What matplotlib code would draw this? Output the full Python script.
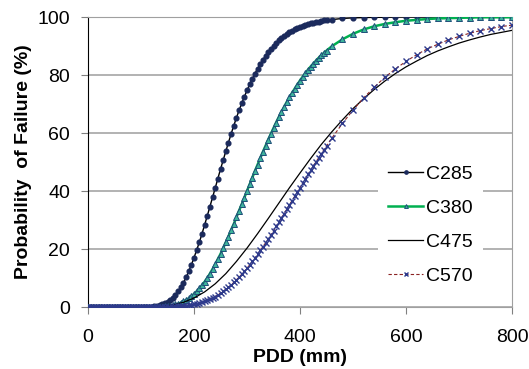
#!/usr/bin/env python

# Import libraries
import matplotlib
matplotlib.use('Agg')
import matplotlib.pyplot as plt

plt.rcParams['font.family'] = ['Liberation Sans', 'DejaVu Sans']

# PDD positions (mm) of the plotted points: dense up to 450 mm, then every 20 mm
pdd = [0, 5, 10, 15, 20, 25, 30, 35, 40, 45, 50, 55, 60, 65, 70, 75, 80, 85, 90, 95,
       100, 105, 110, 115, 120, 125, 130, 135, 140, 145, 150, 155, 160, 165, 170, 175,
       180, 185, 190, 195, 200, 205, 210, 215, 220, 225, 230, 235, 240, 245, 250, 255,
       260, 265, 270, 275, 280, 285, 290, 295, 300, 305, 310, 315, 320, 325, 330, 335,
       340, 345, 350, 355, 360, 365, 370, 375, 380, 385, 390, 395, 400, 405, 410, 415,
       420, 425, 430, 435, 440, 445, 450,
       460, 480, 500, 520, 540, 560, 580, 600, 620, 640, 660, 680, 700, 720, 740, 760,
       780, 800]

# Probability of failure (%)
c285 = [0, 0, 0, 0, 0, 0, 0, 0, 0, 0, 0, 0, 0, 0, 0, 0, 0, 0, 0, 0,
        0.0, 0.0, 0.0, 0.1, 0.1, 0.2, 0.4, 0.6, 0.9, 1.3, 1.8, 2.4, 3.2, 4.2, 5.4, 6.8,
        8.4, 10.2, 12.3, 14.5, 17.0, 19.6, 22.3, 25.2, 28.3, 31.4, 34.6, 37.8, 41.0, 44.3,
        47.5, 50.6, 53.7, 56.7, 59.7, 62.5, 65.2, 67.8, 70.2, 72.5, 74.7, 76.8, 78.7, 80.5,
        82.2, 83.8, 85.2, 86.6, 87.8, 89.0, 90.0, 91.0, 91.9, 92.7, 93.4, 94.0, 94.7, 95.2,
        95.7, 96.1, 96.5, 96.9, 97.2, 97.5, 97.8, 98.0, 98.2, 98.4, 98.6, 98.8, 98.9,
        99.1, 99.5, 99.7, 99.8, 99.9, 99.9, 100, 100, 100, 100, 100, 100, 100, 100, 100,
        100, 100, 100]

c380 = [0, 0, 0, 0, 0, 0, 0, 0, 0, 0, 0, 0, 0, 0, 0, 0, 0, 0, 0, 0,
        0.0, 0.0, 0.0, 0.0, 0.0, 0.0, 0.1, 0.1, 0.1, 0.2, 0.3, 0.5, 0.6, 0.9, 1.1, 1.5,
        1.9, 2.4, 3.0, 3.7, 4.5, 5.4, 6.4, 7.5, 8.7, 10.0, 11.5, 13.1, 14.7, 16.5, 18.3,
        20.3, 22.3, 24.3, 26.5, 28.6, 30.9, 33.2, 35.4, 37.7, 40.0, 42.3, 44.6, 46.9, 49.1,
        51.3, 53.5, 55.6, 57.7, 59.7, 61.7, 63.6, 65.5, 67.3, 69.0, 70.7, 72.3, 73.8, 75.3,
        76.7, 78.1, 79.4, 80.6, 81.8, 82.9, 83.9, 84.9, 85.9, 86.8, 87.6, 88.4,
        89.9, 92.3, 94.2, 95.7, 96.8, 97.6, 98.2, 98.7, 99.0, 99.3, 99.5, 99.6, 99.7, 99.8,
        99.9, 99.9, 99.9, 99.9]

c570 = [0, 0, 0, 0, 0, 0, 0, 0, 0, 0, 0, 0, 0, 0, 0, 0, 0, 0, 0, 0,
        0, 0, 0, 0, 0, 0, 0, 0, 0, 0, 0.1, 0.1, 0.1, 0.2, 0.2, 0.3,
        0.4, 0.5, 0.6, 0.8, 0.9, 1.1, 1.4, 1.7, 2.0, 2.3, 2.7, 3.2, 3.6, 4.2, 4.8,
        5.4, 6.1, 6.8, 7.6, 8.5, 9.4, 10.3, 11.3, 12.3, 13.4, 14.5, 15.7, 16.9, 18.2,
        19.5, 20.8, 22.1, 23.5, 24.9, 26.3, 27.8, 29.2, 30.7, 32.2, 33.7, 35.2, 36.7, 38.2,
        39.7, 41.2, 42.7, 44.2, 45.7, 47.1, 48.6, 50.0, 51.4, 52.8, 54.2, 55.6,
        58.2, 63.3, 67.9, 72.1, 75.8, 79.2, 82.1, 84.7, 87.0, 89.0, 90.6, 92.1, 93.3, 94.4,
        95.3, 96.0, 96.7, 97.2]

# C475 is a plain line, read every 20 mm
pdd_475 = [0, 20, 40, 60, 80, 100, 120, 140, 160, 180, 200, 220, 240, 260, 280, 300,
           320, 340, 360, 380, 400, 420, 440, 460, 480, 500, 520, 540, 560, 580, 600,
           620, 640, 660, 680, 700, 720, 740, 760, 780, 800]
c475 = [0, 0, 0, 0, 0, 0, 0.1, 0.3, 0.7, 1.6, 3.1, 5.2, 8.0, 11.5, 15.7, 20.3,
        25.3, 30.5, 35.8, 41.1, 46.2, 51.2, 56.0, 60.4, 64.5, 68.4, 71.8, 75.0, 77.9, 80.5,
        82.8, 84.8, 86.7, 88.3, 89.7, 91.0, 92.1, 93.1, 94.0, 94.7, 95.4]

x_ticks = [0, 200, 400, 600, 800]
y_ticks = [0, 20, 40, 60, 80, 100]

fig = plt.figure(figsize=(5.29, 3.69), dpi=100)
ax = fig.add_axes([88 / 529, 1 - 307 / 369, 424 / 529, 290 / 369])

ax.plot(pdd, c285, color='black', lw=1.0, marker='o', ms=3.4,
        mfc='#1B2A5C', mec='#1B2A5C', label='C285', zorder=3)
ax.plot(pdd, c380, color='#00B050', lw=1.8, marker='^', ms=4.0,
        mfc='#3DB59B', mec='#1F4E79', mew=0.7, label='C380', zorder=4)
ax.plot(pdd_475, c475, color='black', lw=0.9, label='C475', zorder=5)
ax.plot(pdd, c570, color='#8B2323', lw=0.8, ls=(0, (3, 2)), marker='x', ms=4.0,
        mec='#2E3A8C', mew=1.0, label='C570', zorder=6)

ax.set_xlim(0, 800)
ax.set_ylim(0, 100)
ax.set_xticks(x_ticks)
ax.set_yticks(y_ticks)

ax.yaxis.grid(True, color='#A6A6A6', lw=1.2)
ax.set_axisbelow(True)

for side in ['top', 'right', 'bottom']:
    ax.spines[side].set_color('#A0A0A0')
ax.spines['left'].set_color('black')
ax.tick_params(axis='x', direction='out', length=5, color='#808080', pad=11, labelsize=14)
ax.tick_params(axis='y', direction='out', length=5, color='#808080', pad=8, labelsize=14)

ax.set_xlabel('PDD (mm)', fontsize=14, fontweight='bold', labelpad=2)
ax.set_ylabel('Probability  of Failure (%)', fontsize=14, fontweight='bold', labelpad=4)

leg = ax.legend(loc='upper left', bbox_to_anchor=(0.685, 0.522), fontsize=14,
                numpoints=1, markerscale=0.7, handlelength=1.8, handletextpad=0.15,
                labelspacing=0.84, borderaxespad=0, borderpad=0.5,
                frameon=True, fancybox=False)
leg.get_frame().set_facecolor('white')
leg.get_frame().set_edgecolor('none')
leg.get_frame().set_alpha(1)

fig.savefig('out.png', dpi=100)
